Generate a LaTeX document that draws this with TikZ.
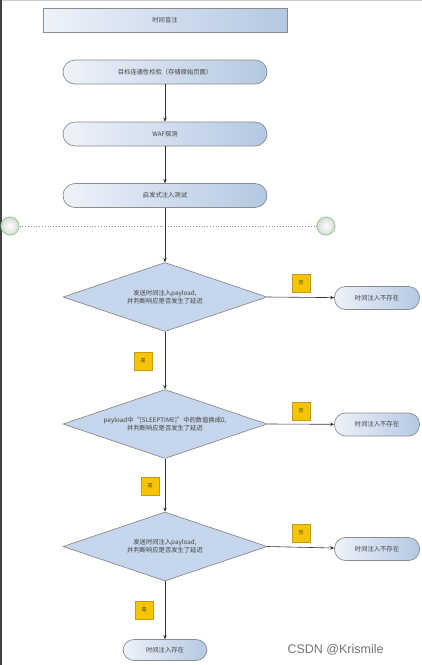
\documentclass[tikz,border=0pt]{standalone}
\usepackage{fontspec}
\setmainfont{Noto Sans CJK SC}
\newfontfamily\markfont{Liberation Sans}
\usetikzlibrary{shapes.geometric,arrows.meta}

\begin{document}
\begin{tikzpicture}[x=1pt, y=-1pt]
  \definecolor{boxleft}{HTML}{EEF2FA}
  \definecolor{boxright}{HTML}{B4C8E2}
  \definecolor{boxline}{HTML}{8C8C8C}
  \definecolor{dfill}{HTML}{C6D6EC}
  \definecolor{tagfill}{HTML}{F6C400}
  \definecolor{tagline}{HTML}{C89A10}
  \definecolor{ringline}{HTML}{98D098}
  \tikzstyle{every node}=[font=\fontsize{6.3}{8}\selectfont, text=black!75]
  \tikzstyle{flowbox}=[draw=boxline, line width=0.7pt, left color=boxleft, right color=boxright, minimum width=204pt, minimum height=24pt, rounded corners=12pt]
  \tikzstyle{endbox}=[flowbox, minimum width=85pt, minimum height=23pt, rounded corners=11pt]
  \tikzstyle{test}=[diamond, draw=boxline, line width=0.7pt, fill=dfill, minimum width=204pt, minimum height=69pt, inner sep=0pt]
  \tikzstyle{tag}=[draw=tagline, line width=0.6pt, fill=tagfill, minimum size=18pt, inner sep=0pt, font=\fontsize{5}{6}\selectfont]
  \tikzstyle{ring}=[circle, draw=ringline, line width=1pt, inner color=white, outer color=black!15, minimum size=18pt]
  \tikzstyle{flow}=[draw=black!80, line width=0.6pt, -{Stealth[length=4pt, width=3.5pt]}]
  \tikzstyle{testtext}=[align=center, inner sep=0pt]

  \useasboundingbox (0,0) rectangle (422,665);
  \draw[black!20, line width=1pt] (0,0.5) -- (422,0.5);
  \draw[black!75, line width=1.5pt] (0.75,0) -- (0.75,665);

  \node[flowbox, rounded corners=0pt, minimum width=244pt] (title) at (165,20) {时间盲注};
  \node[flowbox] (check) at (165,72) {目标连通性检验（存储原始页面）};
  \node[flowbox] (waf) at (165,134) {WAF探测};
  \node[flowbox] (heur) at (165,195.5) {启发式注入测试};

  \node[ring] (lring) at (10,226) {};
  \node[ring] (rring) at (326,226) {};
  \draw[black!45, dotted, line width=0.8pt] (lring) -- (rring);

  \node[test] (send) at (165,297) {};
  \node[testtext] (sendtxt) at (send) {发送时间注入payload,\\并判断响应是否发生了延迟};
  \node[test] (zero) at (165,424) {};
  \node[testtext] (zerotxt) at (zero) {payload中“[SLEEPTIME]”中的数值换成0,\\并判断响应是否发生了延迟};
  \node[test] (again) at (165,546.5) {};
  \node[testtext] (againtxt) at (again) {发送时间注入payload,\\并判断响应是否发生了延迟};

  \node[endbox] (none1) at (377,298) {时间注入不存在};
  \node[endbox] (none2) at (377,424.5) {时间注入不存在};
  \node[endbox] (none3) at (377,549) {时间注入不存在};
  \node[endbox, minimum width=84pt, minimum height=21pt] (found) at (165,650) {时间注入存在};

  \node[tag] (no1) at (301,283) {否};
  \node[tag] (no2) at (301,411) {否};
  \node[tag] (no3) at (301,533) {否};
  \node[tag] (yes1) at (143,361) {是};
  \node[tag] (yes2) at (150,486) {是};
  \node[tag] (yes3) at (144,610) {是};

  \path[flow] (check) -- (waf);
  \path[flow] (waf) -- (heur);
  \path[flow] (heur) -- (send);
  \path[flow] (send.east) -- (none1);
  \path[flow] (send.south) -- (zero.north);
  \path[flow] (zero.east) -- (none2);
  \path[flow] (zero.south) -- (again.north);
  \path[flow] (again.east) -- (none3);
  \path[flow] (again.south) -- (found);

  \node[font=\markfont\fontsize{12.5}{14}\selectfont, text=black!55, anchor=west] (mark) at (284,650) {CSDN @Krismile};
\end{tikzpicture}
\end{document}
